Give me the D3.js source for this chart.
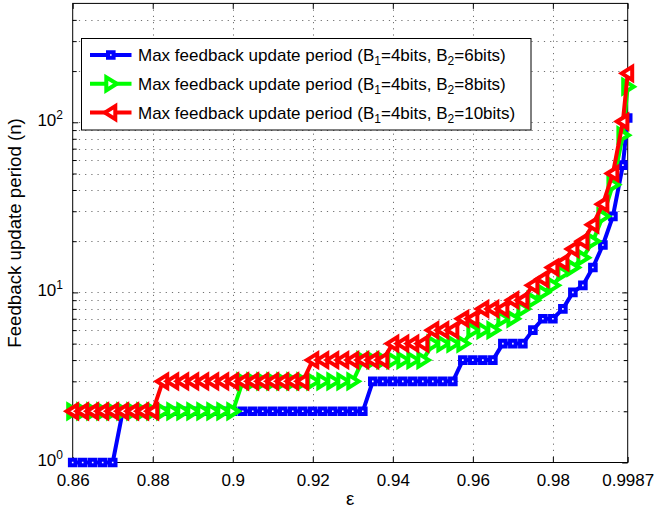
<!DOCTYPE html>
<html>
<head>
<meta charset="utf-8">
<script src="https://cdn.jsdelivr.net/npm/d3@7/dist/d3.min.js"></script>
<style>
  body { margin: 0; background: #fff; }
  svg { display: block; }
  text { font-family: "Liberation Sans", Arial, Helvetica, sans-serif; fill: #000; }
</style>
</head>
<body>
<svg id="chart" width="662" height="511"></svg>
<script>
// Reliability target epsilon (x values shared by all three curves)
const epsilon = [
  0.8600, 0.8625, 0.8650, 0.8675, 0.8700, 0.8725, 0.8750, 0.8775, 0.8800, 0.8825,
  0.8850, 0.8875, 0.8900, 0.8925, 0.8950, 0.8975, 0.9000, 0.9025, 0.9050, 0.9075,
  0.9100, 0.9125, 0.9150, 0.9175, 0.9200, 0.9225, 0.9250, 0.9275, 0.9300, 0.9325,
  0.9350, 0.9375, 0.9400, 0.9425, 0.9450, 0.9475, 0.9500, 0.9525, 0.9550, 0.9575,
  0.9600, 0.9625, 0.9650, 0.9675, 0.9700, 0.9725, 0.9750, 0.9775, 0.9800, 0.9825,
  0.9850, 0.9875, 0.9900, 0.9925, 0.9950, 0.9975, 0.9987
];

// Max feedback update period, B1 = 4 bits, B2 = 6 bits
const periodB2_6 = [
  1, 1, 1, 1, 1, 2, 2, 2, 2, 2,
  2, 2, 2, 2, 2, 2, 2, 2, 2, 2,
  2, 2, 2, 2, 2, 2, 2, 2, 2, 2,
  3, 3, 3, 3, 3, 3, 3, 3, 3, 4,
  4, 4, 4, 5, 5, 5, 6, 7, 7, 8,
  10, 11, 14, 19, 28, 56, 106
];

// Max feedback update period, B1 = 4 bits, B2 = 8 bits
const periodB2_8 = [
  2, 2, 2, 2, 2, 2, 2, 2, 2, 2,
  2, 2, 2, 2, 2, 2, 2, 3, 3, 3,
  3, 3, 3, 3, 3, 3, 3, 3, 3, 4,
  4, 4, 4, 4, 4, 4, 5, 5, 5, 5,
  6, 6, 6, 7, 7, 8, 9, 10, 11, 13,
  14, 16, 20, 28, 43, 84, 162
];

// Max feedback update period, B1 = 4 bits, B2 = 10 bits
const periodB2_10 = [
  2, 2, 2, 2, 2, 2, 2, 2, 2, 3,
  3, 3, 3, 3, 3, 3, 3, 3, 3, 3,
  3, 3, 3, 3, 4, 4, 4, 4, 4, 4,
  4, 4, 5, 5, 5, 5, 6, 6, 6, 7,
  7, 8, 8, 8, 9, 9, 11, 12, 14, 15,
  18, 20, 25, 33, 50, 101, 194
];

const xTickValues = [0.86, 0.88, 0.9, 0.92, 0.94, 0.96, 0.98, 0.9987];
const xTickLabels = ["0.86", "0.88", "0.9", "0.92", "0.94", "0.96", "0.98", "0.9987"];
const yMajorTicks = [1, 10, 100];
const yMajorExponents = ["0", "1", "2"];
const yMinorTicks = [2, 3, 4, 5, 6, 7, 8, 9, 20, 30, 40, 50, 60, 70, 80, 90, 200, 300, 400];
const seriesB2 = ["6", "8", "10"];
const seriesColors = ["#0000ff", "#00ff00", "#ff0000"];
const seriesMarkers = ["square", "triangleRight", "triangleLeft"];

const svg = d3.select("#chart");
const plotL = 72.7, plotR = 627.7, plotT = 3.4, plotB = 462.5;

const x = d3.scaleLinear().domain([0.86, 0.9987]).range([plotL, plotR]);
const y = d3.scaleLog().domain([1, 500]).range([plotB, plotT]);

// dotted grid
const grid = svg.append("g").attr("stroke", "#707070").attr("stroke-width", 1)
  .attr("stroke-dasharray", "1.2,5").attr("fill", "none");
grid.selectAll("line.gx").data(xTickValues.slice(1, -1)).join("line").attr("class", "gx")
  .attr("x1", d => Math.round(x(d)) + 0.5).attr("x2", d => Math.round(x(d)) + 0.5)
  .attr("y1", plotT).attr("y2", plotB);
grid.selectAll("line.gy").data(yMajorTicks.slice(1).concat(yMinorTicks)).join("line").attr("class", "gy")
  .attr("x1", plotL).attr("x2", plotR)
  .attr("y1", d => Math.round(y(d)) + 0.5).attr("y2", d => Math.round(y(d)) + 0.5);

// axes: box with inward ticks on all four sides
const tickLen = 5.5, minorLen = 4;
const axes = svg.append("g");
const xAxisB = d3.axisBottom(x).tickValues(xTickValues).tickSizeInner(-tickLen).tickSizeOuter(0)
  .tickPadding(11).tickFormat((d, i) => xTickLabels[i]);
axes.append("g").attr("transform", `translate(0,${plotB})`).call(xAxisB)
  .call(g => g.selectAll("text").attr("font-size", 17).attr("font-family", '"Liberation Sans", Arial, sans-serif'));
const xAxisT = d3.axisTop(x).tickValues(xTickValues).tickSizeInner(-tickLen).tickSizeOuter(0).tickFormat("");
axes.append("g").attr("transform", `translate(0,${plotT})`).call(xAxisT);

const yAxisL = d3.axisLeft(y).tickValues(yMajorTicks).tickSizeInner(-tickLen).tickSizeOuter(0).tickFormat("");
axes.append("g").attr("transform", `translate(${plotL},0)`).call(yAxisL);
const yAxisLm = d3.axisLeft(y).tickValues(yMinorTicks).tickSizeInner(-minorLen).tickSizeOuter(0).tickFormat("");
axes.append("g").attr("transform", `translate(${plotL},0)`).call(yAxisLm);
const yAxisR = d3.axisRight(y).tickValues(yMajorTicks).tickSizeInner(-tickLen).tickSizeOuter(0).tickFormat("");
axes.append("g").attr("transform", `translate(${plotR},0)`).call(yAxisR);
const yAxisRm = d3.axisRight(y).tickValues(yMinorTicks).tickSizeInner(-minorLen).tickSizeOuter(0).tickFormat("");
axes.append("g").attr("transform", `translate(${plotR},0)`).call(yAxisRm);
axes.selectAll(".domain").remove();
axes.selectAll("line").attr("stroke", "#000");
axes.append("rect").attr("x", plotL).attr("y", plotT).attr("width", plotR - plotL).attr("height", plotB - plotT)
  .attr("fill", "none").attr("stroke", "#000").attr("stroke-width", 1);

// y tick labels as powers of ten
const yLabels = svg.append("g").attr("font-size", 17).attr("text-anchor", "end");
yMajorTicks.forEach((v, i) => {
  const t = yLabels.append("text").attr("x", 63).attr("y", y(v) + 3.6);
  t.append("tspan").text("10");
  t.append("tspan").attr("font-size", 12).attr("dy", -7).text(yMajorExponents[i]);
});

// axis titles
svg.append("text").attr("x", (plotL + plotR) / 2).attr("y", 505).attr("text-anchor", "middle")
  .attr("font-size", 18.7).text("ε");
svg.append("text").attr("transform", `translate(21,${(plotT + plotB) / 2}) rotate(-90)`)
  .attr("text-anchor", "middle").attr("font-size", 18.7).text("Feedback update period (n)");

// marker shapes: thick outline around a small white centre
function markerPath(kind) {
  if (kind === "square") return "M-2.8,-2.8H2.8V2.8H-2.8Z";
  if (kind === "triangleRight") return "M6,0L-4.5,-6.5L-4.5,6.5Z";
  return "M-6,0L4.5,-6.5L4.5,6.5Z";
}
function markerStroke(kind) { return 4; }

const seriesData = [periodB2_6, periodB2_8, periodB2_10];
const line = d3.line().x(d => x(d[0])).y(d => y(d[1]));

seriesData.forEach((vals, s) => {
  const pts = epsilon.map((e, i) => [e, vals[i]]);
  const g = svg.append("g");
  g.append("path").attr("d", line(pts)).attr("fill", "none")
    .attr("stroke", seriesColors[s]).attr("stroke-width", 4).attr("stroke-linejoin", "round");
  g.selectAll("path.m").data(pts).join("path").attr("class", "m")
    .attr("transform", d => `translate(${x(d[0])},${y(d[1])})`)
    .attr("d", markerPath(seriesMarkers[s]))
    .attr("fill", "#fff").attr("stroke", seriesColors[s])
    .attr("stroke-width", markerStroke(seriesMarkers[s])).attr("stroke-linejoin", "miter");
});

// legend
const lg = svg.append("g");
lg.append("rect").attr("x", 81.5).attr("y", 38.5).attr("width", 449.5).attr("height", 91.5)
  .attr("fill", "#fff").attr("stroke", "#000").attr("stroke-width", 1);
const rowY = [55, 83.8, 112.6];
seriesB2.forEach((b2, s) => {
  const ry = rowY[s];
  lg.append("line").attr("x1", 90).attr("x2", 131.5).attr("y1", ry).attr("y2", ry)
    .attr("stroke", seriesColors[s]).attr("stroke-width", 4);
  lg.append("path").attr("transform", `translate(110.8,${ry})`).attr("d", markerPath(seriesMarkers[s]))
    .attr("fill", "#fff").attr("stroke", seriesColors[s])
    .attr("stroke-width", markerStroke(seriesMarkers[s])).attr("stroke-linejoin", "miter");
  const t = lg.append("text").attr("x", 138).attr("y", ry + 6).attr("font-size", 17);
  t.append("tspan").text("Max feedback update period (B");
  t.append("tspan").attr("font-size", 12).attr("dy", 4).text("1");
  t.append("tspan").attr("dy", -4).text("=4bits, B");
  t.append("tspan").attr("font-size", 12).attr("dy", 4).text("2");
  t.append("tspan").attr("dy", -4).text("=" + b2 + "bits)");
});
</script>
</body>
</html>
